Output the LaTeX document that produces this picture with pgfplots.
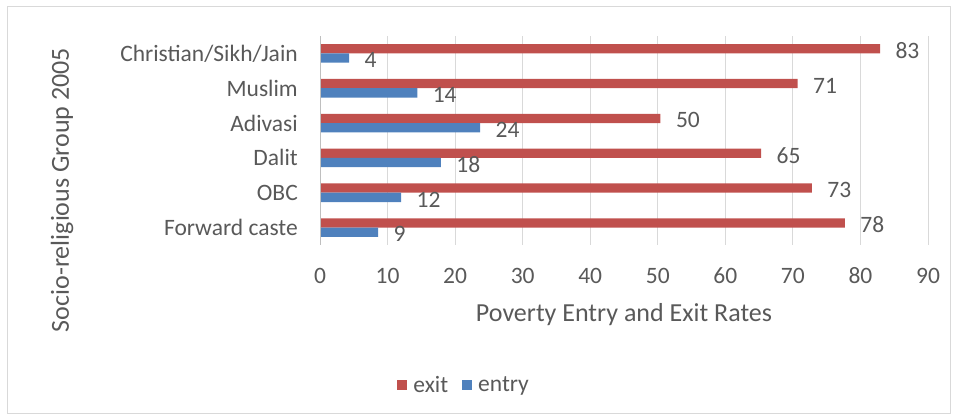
\documentclass[border=0pt]{standalone}
\usepackage{pgfplots}
\pgfplotsset{compat=1.18}
\usepackage{fontspec}
\setmainfont{Carlito}
\definecolor{exitred}{HTML}{C0504D}
\definecolor{entryblue}{HTML}{4F81BD}
\definecolor{txt}{HTML}{595959}
\definecolor{gridc}{HTML}{D9D9D9}
\begin{document}
\begin{tikzpicture}[x=1pt,y=1pt]
\useasboundingbox (0,0) rectangle (958,420);
\draw[gridc, line width=1pt] (7.5,6.5) rectangle (950.5,413.5);
\begin{axis}[
  at={(320pt,175pt)}, anchor=south west,
  scale only axis, width=608pt, height=209pt,
  xmin=0, xmax=90, ymin=-0.5, ymax=5.5,
  xtick={0,10,...,90},
  ytick={0,...,5},
  yticklabels={Forward caste,OBC,Dalit,Adivasi,Muslim,Christian/Sikh/Jain},
  xmajorgrids, grid style={gridc, line width=1pt},
  axis line style={draw=none},
  major tick length=0pt,
  tick label style={font=\fontsize{23.5}{24}\selectfont, text=txt, inner sep=0pt},
  yticklabel style={anchor=east, xshift=-22pt},
  xticklabel style={anchor=center, yshift=-31pt},
  /pgf/number format/assume math mode=true,
  xbar, bar width=9.3pt,
  nodes near coords={\pgfmathprintnumber[fixed,precision=0]{\pgfplotspointmeta}},
  nodes near coords style={anchor=west, xshift=12pt, yshift=-2pt, font=\fontsize{23.5}{24}\selectfont, text=txt, /pgf/number format/assume math mode=true},
  legend style={at={(0.127,-0.67)}, anchor=west, draw=none, fill=none, inner sep=0pt, font=\fontsize{23.5}{24}\selectfont, text=txt, legend columns=2,
    /tikz/every even column/.append style={column sep=8pt},
    nodes={inner xsep=6pt, inner ysep=2pt}},
  legend image code/.code={\fill[#1] (0pt,-5pt) rectangle (10pt,5pt);},
  clip=false,
]
\addplot[fill=exitred, draw=none, bar shift=4.65pt] coordinates {
  (77.7,0) (72.8,1) (65.3,2) (50.4,3) (70.7,4) (82.9,5)};
\addlegendentry{exit}
\addplot[fill=entryblue, draw=none, bar shift=-4.65pt] coordinates {
  (8.6,0) (12.0,1) (17.9,2) (23.7,3) (14.4,4) (4.3,5)};
\addlegendentry{entry}
\draw[color=black!25, line width=1pt] (axis cs:0,-0.5) -- (axis cs:0,5.5);
\end{axis}
\node[rotate=90, font=\fontsize{26}{26}\selectfont, text=txt] at (62,230) {Socio-religious Group 2005};
\node[font=\fontsize{26}{26}\selectfont, text=txt] at (624,105) {Poverty Entry and Exit Rates};
\end{tikzpicture}
\end{document}
